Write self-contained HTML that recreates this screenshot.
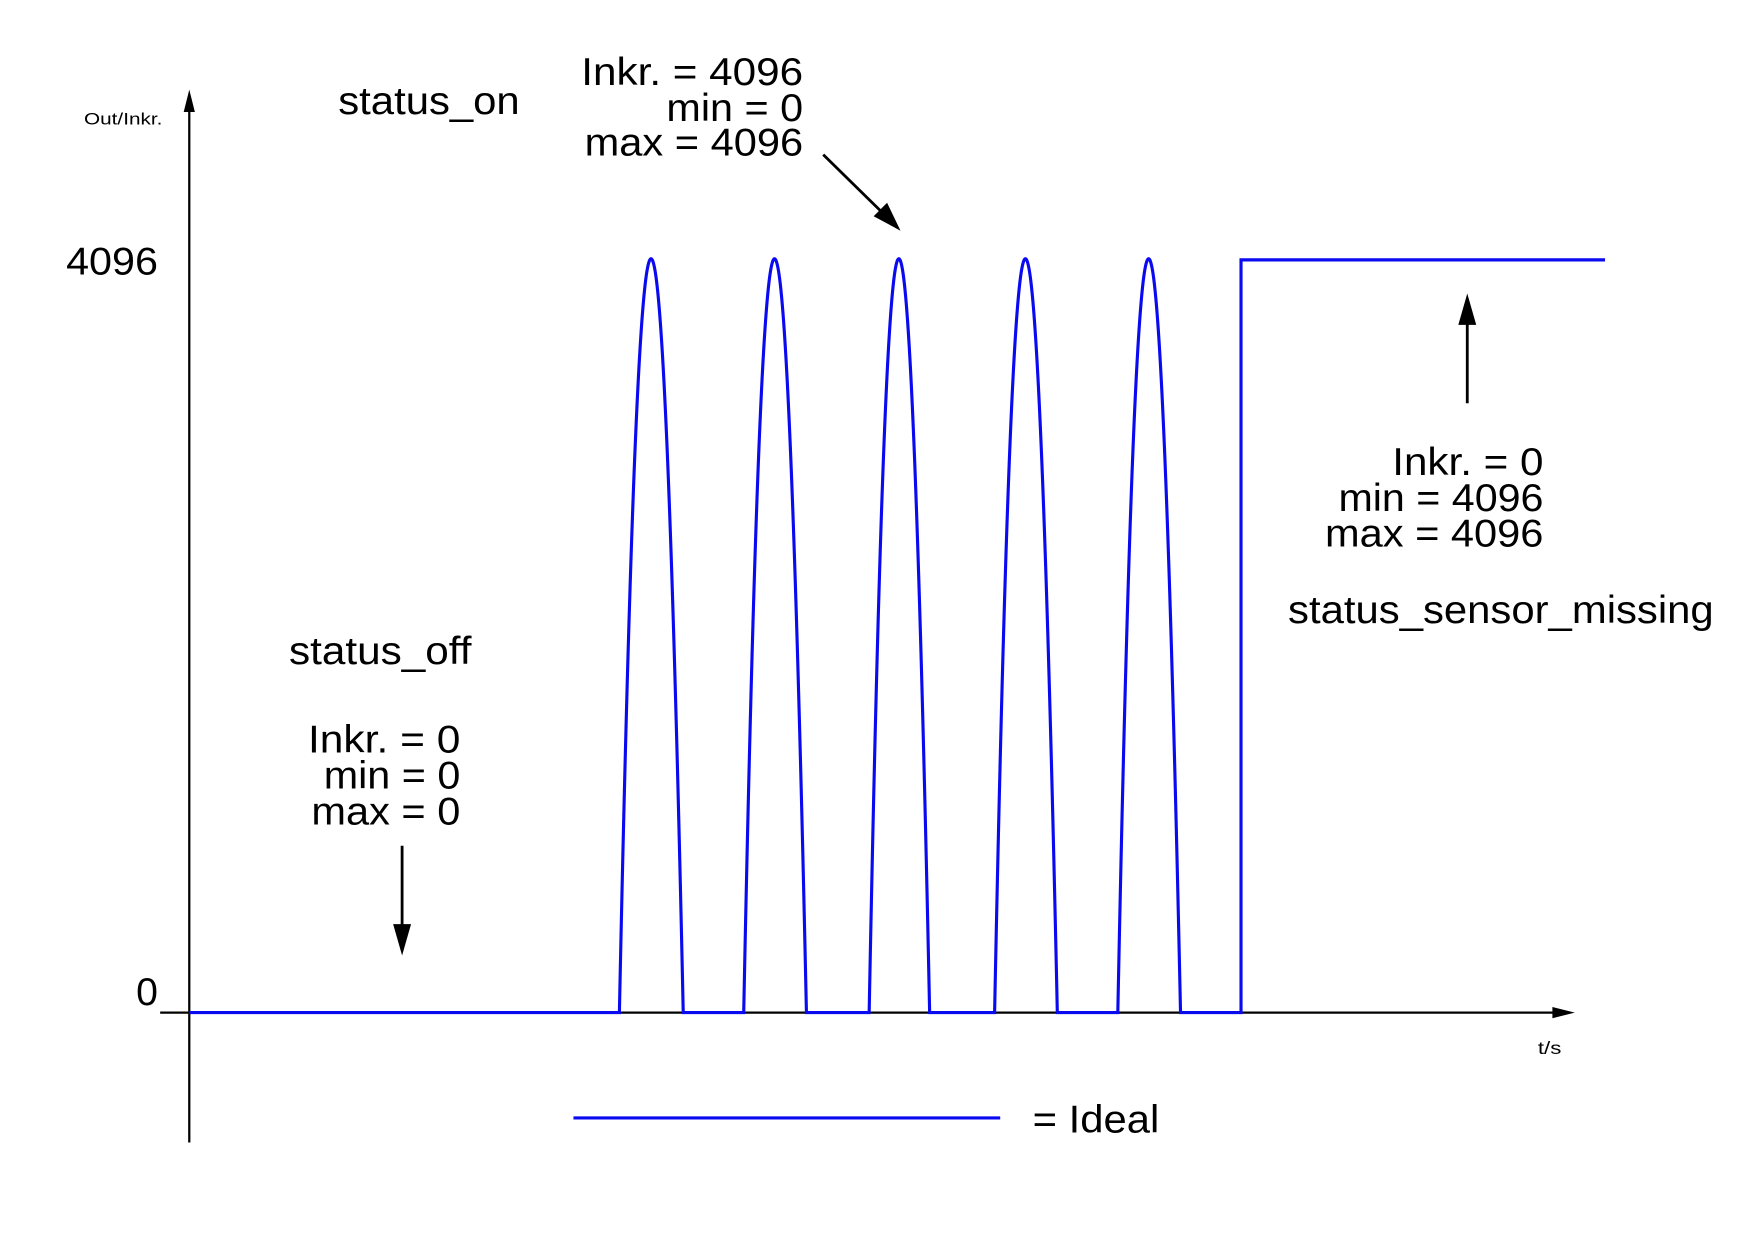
<!DOCTYPE html>
<html><head><meta charset="utf-8"><style>
html,body{margin:0;padding:0;background:#fff;}
svg{display:block;}
text{font-family:"Liberation Sans",Arial,sans-serif;fill:#000;}
</style></head><body>
<svg width="1754" height="1240" viewBox="0 0 1566 1107" preserveAspectRatio="none" xmlns="http://www.w3.org/2000/svg">
<rect width="1566" height="1107" fill="#fff"/>
<line x1="169" y1="1020" x2="169" y2="98" stroke="#000" stroke-width="2"/>
<polygon points="169,80 164,100 174,100" fill="#000"/>
<line x1="143" y1="904" x2="1388" y2="904" stroke="#000" stroke-width="2"/>
<polygon points="1406,904 1386,899 1386,909" fill="#000"/>
<text x="75" y="111" font-size="15" textLength="70" lengthAdjust="spacingAndGlyphs">Out/Inkr.</text>
<text x="59" y="245" font-size="35" textLength="82" lengthAdjust="spacingAndGlyphs">4096</text>
<text x="141" y="897" font-size="35" text-anchor="end">0</text>
<text x="1373" y="941" font-size="16" textLength="21" lengthAdjust="spacingAndGlyphs">t/s</text>
<path d="M169 904 H553 Q581 -442 610 904 H664 Q691 -442 720 904 H776 Q802 -442 830 904 H888 Q915 -442 944 904 H998 Q1025 -442 1054 904 H1108 V232 H1433" fill="none" stroke="#0a0af0" stroke-width="2.8"/>
<g font-size="35" lengthAdjust="spacingAndGlyphs">
<text x="302" y="102" textLength="162" lengthAdjust="spacingAndGlyphs">status_on</text>
<text x="519" y="76" textLength="198" lengthAdjust="spacingAndGlyphs">Inkr. = 4096</text>
<text x="595" y="108" textLength="122" lengthAdjust="spacingAndGlyphs">min = 0</text>
<text x="522" y="139" textLength="195" lengthAdjust="spacingAndGlyphs">max = 4096</text>
<text x="1243" y="424" textLength="135" lengthAdjust="spacingAndGlyphs">Inkr. = 0</text>
<text x="1195" y="456" textLength="183" lengthAdjust="spacingAndGlyphs">min = 4096</text>
<text x="1183" y="488" textLength="195" lengthAdjust="spacingAndGlyphs">max = 4096</text>
<text x="1150" y="556" textLength="380" lengthAdjust="spacingAndGlyphs">status_sensor_missing</text>
<text x="258" y="593" textLength="163" lengthAdjust="spacingAndGlyphs">status_off</text>
<text x="275" y="672" textLength="136" lengthAdjust="spacingAndGlyphs">Inkr. = 0</text>
<text x="289" y="704" textLength="122" lengthAdjust="spacingAndGlyphs">min = 0</text>
<text x="278" y="736" textLength="133" lengthAdjust="spacingAndGlyphs">max = 0</text>
<text x="922" y="1011" textLength="113" lengthAdjust="spacingAndGlyphs">= Ideal</text>
</g>
<line x1="735" y1="138" x2="792" y2="194" stroke="#000" stroke-width="2.5"/>
<polygon points="804,206 780,193 792,181" fill="#000"/>
<line x1="1310" y1="360" x2="1310" y2="280" stroke="#000" stroke-width="2.5"/>
<polygon points="1310,262 1302,290 1318,290" fill="#000"/>
<line x1="359" y1="755" x2="359" y2="835" stroke="#000" stroke-width="2.5"/>
<polygon points="359,853 351,825 367,825" fill="#000"/>
<line x1="512" y1="998" x2="893" y2="998" stroke="#0a0af0" stroke-width="2.8"/>
</svg>
</body></html>
